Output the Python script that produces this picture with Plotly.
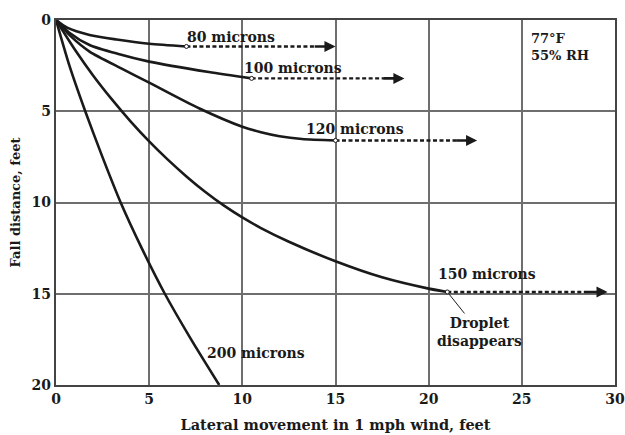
import plotly.graph_objects as go

# ---- data ----
x80 = [0, 0.6, 1.8, 3.25, 5.0, 7.0]
y80 = [0, 0.42, 0.82, 1.07, 1.3, 1.45]

x100 = [0, 0.7, 1.8, 3.3, 5.0, 8.2, 10.5]
y100 = [0, 0.68, 1.37, 1.85, 2.28, 2.85, 3.2]

x120 = [0, 0.8, 1.8, 3.5, 5.0, 7.7, 10.0, 11.0, 12.0, 13.2, 15.0]
y120 = [0, 0.9, 1.73, 2.65, 3.43, 4.85, 5.85, 6.15, 6.37, 6.52, 6.6]

x150 = [0, 1.0, 2.0, 3.0, 4.0, 5.0, 6.0, 7.0, 8.0, 9.0, 10.0, 11.0, 12.5, 15.0, 17.5, 20.0, 21.0]
y150 = [0, 1.6, 3.05, 4.35, 5.55, 6.65, 7.65, 8.57, 9.41, 10.16, 10.82, 11.4, 12.15, 13.22, 14.1, 14.72, 14.9]

x200 = [0, 0.72, 1.57, 2.49, 3.47, 4.6, 5.84, 7.25, 8.76]
y200 = [0, 2.5, 5.0, 7.5, 10.0, 12.5, 15.0, 17.5, 20.0]

labels = ["80 microns", "100 microns", "120 microns", "150 microns", "200 microns"]
label_x = [6.9, 10.0, 13.3, 20.4, 8.0]
label_y = [0.95, 2.65, 5.95, 13.9, 18.25]

# dashed continuation: start (end of solid curve) -> arrow tip
dash_start_x = [7.0, 10.5, 15.0, 21.0]
dash_y = [1.45, 3.2, 6.6, 14.9]
dash_end_x = [15.0, 18.7, 22.6, 29.6]

xticks = [0, 5, 10, 15, 20, 25, 30]
yticks = [0, 5, 10, 15, 20]

FONT = "DejaVu Serif"
INK = "#1a1a1a"

fig = go.Figure()

for xs, ys in [(x80, y80), (x100, y100), (x120, y120), (x150, y150), (x200, y200)]:
    fig.add_trace(go.Scatter(x=xs, y=ys, mode="lines",
                             line=dict(color=INK, width=2.6, shape="spline", smoothing=0.7),
                             showlegend=False, hoverinfo="skip"))

# dashed extensions (stop before the arrow tip, solid arrow shaft follows)
for sx, yy, ex in zip(dash_start_x, dash_y, dash_end_x):
    fig.add_trace(go.Scatter(x=[sx, ex - 1.1], y=[yy, yy], mode="lines",
                             line=dict(color=INK, width=2.4, dash="4px,2.5px"),
                             showlegend=False, hoverinfo="skip"))
    fig.add_annotation(x=ex, y=yy, ax=ex - 1.2, ay=yy, xref="x", yref="y",
                       axref="x", ayref="y", showarrow=True, arrowhead=2,
                       arrowsize=0.85, arrowwidth=2.6, arrowcolor=INK, text="")

# small circles at the junctions
fig.add_trace(go.Scatter(x=dash_start_x, y=dash_y, mode="markers",
                         marker=dict(size=4, color="white", line=dict(color=INK, width=1)),
                         showlegend=False, hoverinfo="skip"))

for t, lx, ly in zip(labels, label_x, label_y):
    fig.add_annotation(x=lx, y=ly, text=t, showarrow=False, xanchor="left", yanchor="middle",
                       font=dict(family=FONT, size=14, color=INK, weight="bold"))

fig.add_annotation(x=dash_start_x[3], y=dash_y[3], text="Droplet<br>disappears",
                   showarrow=True, arrowhead=0, arrowwidth=1, arrowcolor=INK,
                   ax=32, ay=40, standoff=3,
                   font=dict(family=FONT, size=14, color=INK, weight="bold"))

fig.add_annotation(x=25.4, y=0.5, text="77°F<br>55% RH", showarrow=False,
                   xanchor="left", yanchor="top", align="left",
                   font=dict(family=FONT, size=13, color=INK, weight="bold"))

axis_common = dict(showgrid=True, gridcolor="#6e6e6e", gridwidth=1.6,
                   showline=True, mirror=True, linecolor="#444444", linewidth=2.4,
                   zeroline=False, ticks="", automargin=False, ticklabeloverflow="allow",
                   tickfont=dict(family=FONT, size=14, color=INK, weight="bold"))

fig.update_xaxes(range=[0, 30], tickvals=xticks, **axis_common,
                 title=dict(text="Lateral movement in 1 mph wind, feet", standoff=14,
                            font=dict(family=FONT, size=14.5, color=INK, weight="bold")))
fig.update_yaxes(range=[20, 0], tickvals=yticks, **axis_common,
                 title=dict(text="Fall distance, feet", standoff=8,
                            font=dict(family=FONT, size=13, color=INK, weight="bold")))

fig.update_layout(width=625, height=435, margin=dict(l=56, r=10, t=20, b=50),
                  paper_bgcolor="white", plot_bgcolor="white", showlegend=False)

fig.write_html("out.html", config={"displayModeBar": False},
               post_script="document.body.style.margin='0';document.body.style.overflow='hidden';")
